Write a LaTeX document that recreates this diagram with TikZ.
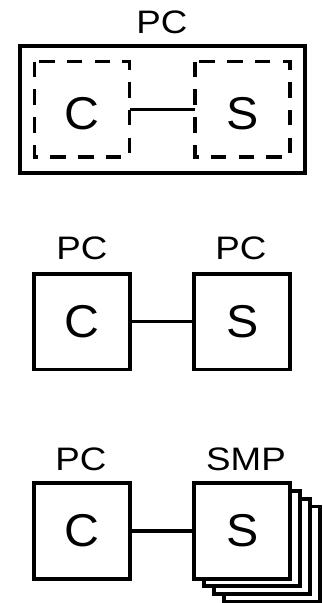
\documentclass[tikz,border=0pt]{standalone}
\usepackage{graphicx}
\usepackage{fontspec}
\setmainfont{Liberation Sans}
% wide-set caption and letter text
\newcommand{\wlbl}[1]{\scalebox{1.13}[1]{#1}}
\newcommand{\wbig}[1]{\scalebox{1.05}[1]{#1}}
\begin{document}
\begin{tikzpicture}[x=1pt,y=-1pt,
  box/.style={draw, line width=3.9pt, fill=white, minimum width=96pt,
    minimum height=95.5pt, inner sep=0pt, font=\fontsize{46}{46}\selectfont},
  frame/.style={draw, line width=4pt, minimum width=284.7pt,
    minimum height=126.5pt, inner sep=0pt},
  slot/.style={draw=none, minimum width=95pt, minimum height=95.3pt,
    inner sep=0pt, outer sep=0pt},
  dashline/.style={line width=3.4pt, dash pattern=on 15.5pt off 12.25pt},
  lbl/.style={anchor=base, inner sep=0pt, font=\fontsize{32.5}{32.5}\selectfont},
  big/.style={anchor=base, inner sep=0pt, font=\fontsize{46}{46}\selectfont},
  link/.style={line width=3.4pt}]
\useasboundingbox (0,0) rectangle (322,603);

% --- one PC running both client and server ---
\node[lbl] (pctop) at (162,33.3) {\wlbl{PC}};
\node[frame] (pc) at (162.65,109.55) {};
\node[slot] (c1) at (82.2,109.35) {};
\node[slot] (s1) at (242.6,109.35) {};
\draw[dashline] (c1.north west) -- (c1.south west) -- (c1.south east) -- (c1.north east) -- cycle;
\draw[dashline] (s1.north west) -- (s1.south west) -- (s1.south east) -- (s1.north east) -- cycle;
\node[big] (c1t) at (82.4,129.5) {\wbig{C}};
\node[big] (s1t) at (242.6,129.5) {\wbig{S}};
\draw[link] (c1.east) -- (s1.west);

% --- client PC and server PC ---
\node[lbl] (pcc2) at (82,259.3) {\wlbl{PC}};
\node[lbl] (pcs2) at (241,259.3) {\wlbl{PC}};
\node[box] (c2) at (82.2,321.75) {\wbig{C}};
\node[box] (s2) at (242.2,321.75) {\wbig{S}};
\draw[link] (c2) -- (s2);

% --- client PC and SMP server ---
\node[lbl] (pcc3) at (81,470) {\wlbl{PC}};
\node[lbl] (smp) at (246,470) {\wlbl{SMP}};
\node[box] (c3) at (82.1,530.85) {\wbig{C}};
\node[box] (s3c) at (272.2,554.25) {};
\node[box] (s3b) at (262.2,546.45) {};
\node[box] (s3a) at (252.2,538.65) {};
\node[box] (s3) at (242.2,530.85) {\wbig{S}};
\draw[link] (c3) -- (s3);
\end{tikzpicture}
\end{document}
